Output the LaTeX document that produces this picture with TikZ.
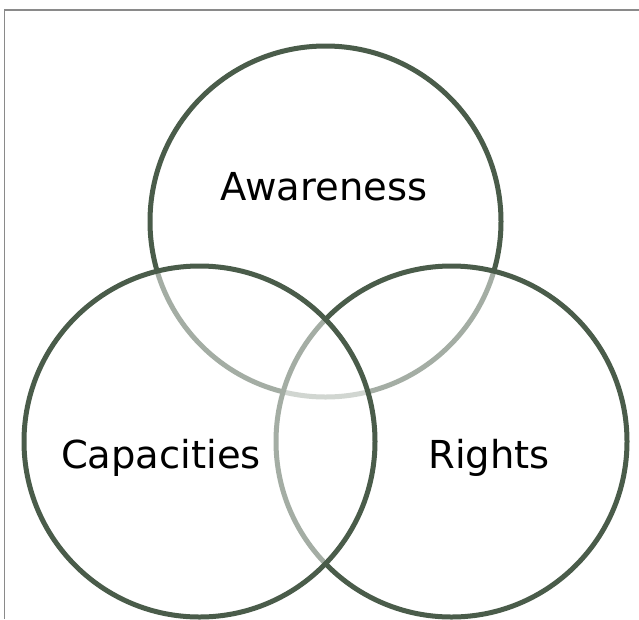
\documentclass[tikz,border=0pt]{standalone}
\usepackage{fontspec}
\setmainfont{DejaVu Sans}
\usepackage{xcolor}
\usepackage{tikz}
\usetikzlibrary{positioning}
\definecolor{ringgreen}{RGB}{74,92,74}
\definecolor{framegray}{RGB}{138,138,138}

\begin{document}
\begin{tikzpicture}[x=1pt,y=-1pt]
		\tikzstyle{ring}=[draw=ringgreen, circle, line width=5pt, inner sep=0pt, minimum size=351pt, fill=white, fill opacity=0.5]
		\tikzstyle{word}=[font=\fontsize{38.5}{46}\selectfont, text=black, anchor=base]
			\useasboundingbox (0,0) rectangle (639,619);
			\draw[framegray, line width=1.5pt] (4.5,619) -- (4.5,10) -- (639,10);
			
			\node[ring] (aware) at (325.5,221.5) {};
			\node[ring] (rights) at (451.5,441.5) {};
			\node[ring] (capac) at (199.5,441.5) {};
			
			\node[word] (awaretxt) at (324,200) {Awareness};
			\node[word] (capactxt) at (161,468) {Capacities};
			\node[word] (rightstxt) at (489,468) {Rights};
\end{tikzpicture}
\end{document}
